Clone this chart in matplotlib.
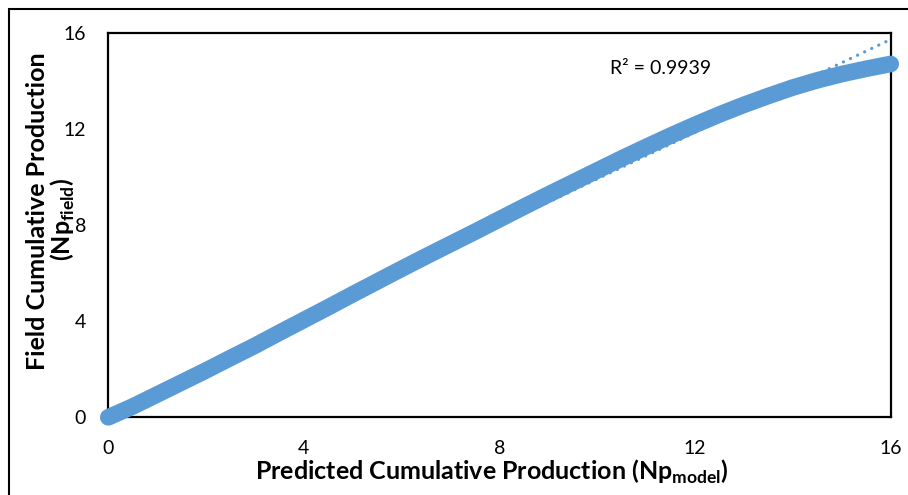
import numpy as np
import matplotlib
matplotlib.use("Agg")
import matplotlib.pyplot as plt
from matplotlib.patches import Rectangle

plt.rcParams['font.family'] = ['Lato', 'DejaVu Sans']
plt.rcParams['mathtext.fontset'] = 'custom'
plt.rcParams['mathtext.rm'] = 'Lato'
plt.rcParams['mathtext.bf'] = 'Lato:bold'

# Data
np_model = [0, 0.5, 1, 1.5, 2, 2.5, 3, 3.5, 4, 4.5, 5, 5.5, 6, 6.5, 7, 7.5, 8,
            8.5, 9, 9.5, 10, 10.5, 11, 11.5, 12, 12.5, 13, 13.5, 14, 14.5, 15, 15.5, 16]
np_field = [0, 0.45, 0.95, 1.45, 1.95, 2.47, 2.98, 3.52, 4.05, 4.58, 5.12, 5.65, 6.18,
            6.7, 7.21, 7.72, 8.24, 8.76, 9.27, 9.77, 10.27, 10.77, 11.25, 11.72, 12.17,
            12.6, 13.0, 13.37, 13.72, 14.02, 14.28, 14.5, 14.7]
r2_text = "R\u00b2 = 0.9939"
ticks = [0, 4, 8, 12, 16]

color = '#5B9BD5'

fig = plt.figure(figsize=(9.08, 4.95), dpi=100)
ax = fig.add_axes([108.3/908, 1-417.3/495, (890.7-108.3)/908, (417.3-32.7)/495])

# Linear trendline
coef = np.polyfit(np_model, np_field, 1)
xt = np.array([0, 16])
ax.plot(xt, np.polyval(coef, xt), color=color, lw=2.3,
        linestyle=(0, (0.05, 2.4)), dash_capstyle='round', zorder=2, clip_on=False)

# Data band
ax.plot(np_model, np_field, color=color, lw=12, solid_capstyle='round',
        solid_joinstyle='round', zorder=3, clip_on=False)

ax.set_xlim(0, 16)
ax.set_ylim(0, 16)
ax.set_xticks(ticks)
ax.set_yticks(ticks)
ax.tick_params(length=0, labelsize=14, colors='black')
ax.tick_params(axis='x', pad=16)
ax.tick_params(axis='y', pad=16)
for s in ax.spines.values():
    s.set_linewidth(1.6)
    s.set_color('black')
    s.set_zorder(1)

ax.text(10.26, 14.49, r2_text, fontsize=14, va='center', ha='left')

fig.text(492/908, 1-472/495, r"Predicted Cumulative Production (Np$_{\mathbf{model}}$)",
         fontsize=18, fontweight='bold', ha='center', va='center')
fig.text(38/908, 1-211.5/495, "Field Cumulative Production", rotation=90,
         fontsize=18, fontweight='bold', ha='center', va='center')
fig.text(63/908, 1-219/495, r"(Np$_{\mathbf{field}}$)", rotation=90,
         fontsize=18, fontweight='bold', ha='center', va='center')

# Outer chart border
fig.patches.append(Rectangle((8.5/908, -0.05), 1.2, 1.05 - 8.5/495,
                             transform=fig.transFigure, fill=False,
                             edgecolor='black', lw=1.5))

fig.savefig("out.png", dpi=100)
